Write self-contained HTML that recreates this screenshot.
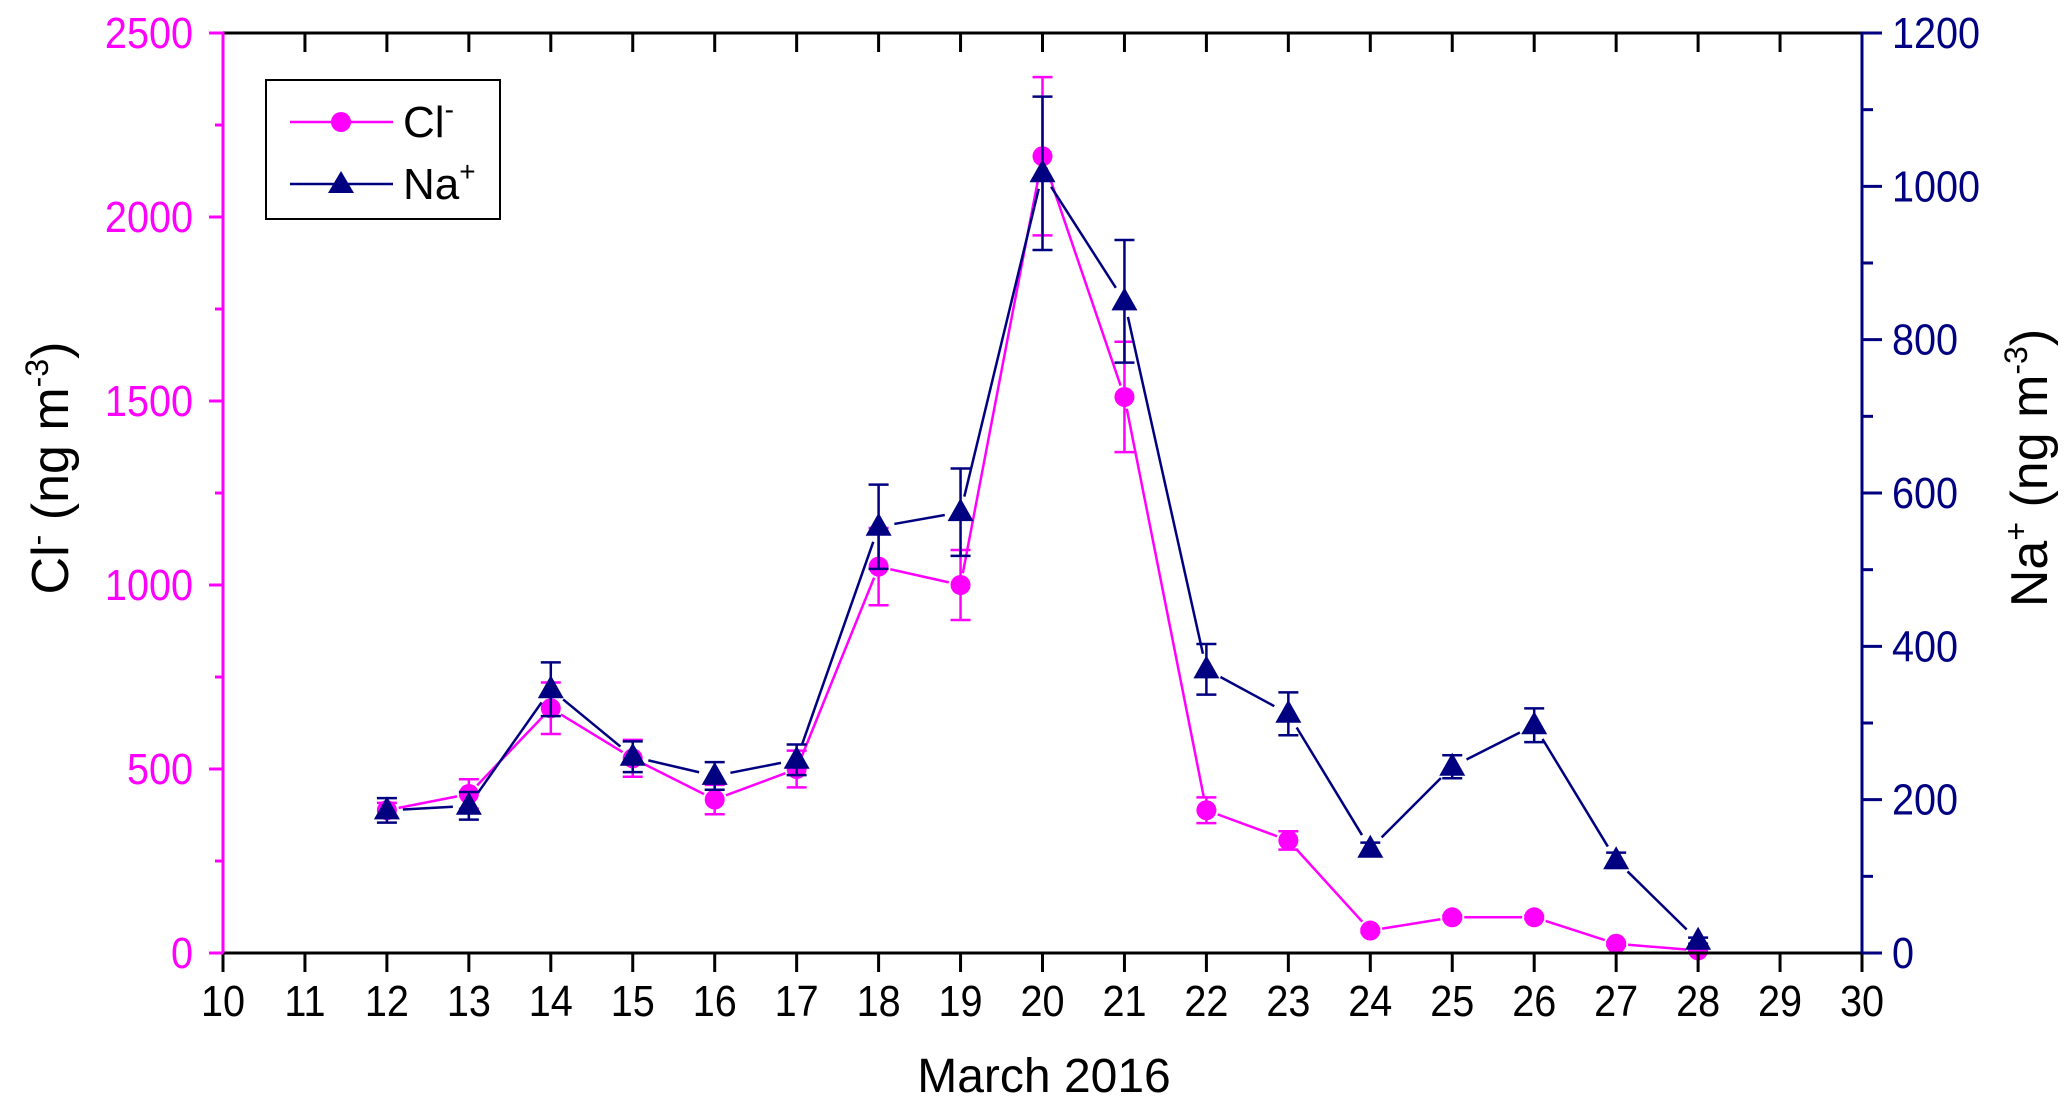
<!DOCTYPE html>
<html><head><meta charset="utf-8"><style>
body{margin:0;background:#fff;}
svg text{font-family:"Liberation Sans",Arial,sans-serif;}
</style></head><body>
<svg id="chart" width="2067" height="1110" xmlns="http://www.w3.org/2000/svg">
<g id="series"></g>
<g id="axes"></g>
<g>
<rect x="266" y="80" width="234" height="139" fill="#fff" stroke="#000" stroke-width="2"/>
<g>
<line x1="290" y1="122" x2="393" y2="122" stroke="#ff00ff" stroke-width="2.5"/>
<circle cx="341" cy="122" r="10" fill="#ff00ff"/>
<text x="403" y="137" font-size="44">Cl<tspan font-size="28" dy="-18">-</tspan></text>
</g>
<g>
<line x1="290" y1="184" x2="393" y2="184" stroke="#000080" stroke-width="2.5"/>
<polygon points="341,171 328,193 354,193" fill="#000080"/>
<text x="403" y="199" font-size="44">Na<tspan font-size="28" dy="-18">+</tspan></text>
</g>
</g>
<text x="1044" y="1092" font-size="48" text-anchor="middle">March  2016</text>
<text transform="translate(68,468) rotate(-90)" font-size="52" text-anchor="middle">Cl<tspan font-size="32" dy="-20">-</tspan><tspan dy="20"> (ng m</tspan><tspan font-size="32" dy="-20">-3</tspan><tspan dy="20">)</tspan></text>
<text transform="translate(2047,468) rotate(-90)" font-size="52" text-anchor="middle">Na<tspan font-size="32" dy="-20">+</tspan><tspan dy="20"> (ng m</tspan><tspan font-size="32" dy="-20">-3</tspan><tspan dy="20">)</tspan></text>
</svg>
<script>
const days=[12,13,14,15,16,17,18,19,20,21,22,23,24,25,26,27,28];
const clValues=[388,432,665,529,417,500,1050,1000,2165,1511,388,306,61,97,97,25,7];
const clErrors=[20,40,70,50,40,50,105,95,215,150,35,25,5,5,5,5,3];
const naValues=[186,192,344,256,231,252,556,575,1017,850,370,312,136,243,297,121,16];
const naErrors=[16,18,35,20,18,20,55,57,100,80,33,28,8,15,22,10,4];
const xTicks=[10,11,12,13,14,15,16,17,18,19,20,21,22,23,24,25,26,27,28,29,30];
const leftTicks=[0,500,1000,1500,2000,2500];
const rightTicks=[0,200,400,600,800,1000,1200];

const X0=223,X1=1862,Y0=953,Y1=33;
const xs=d=>X0+(d-10)/20*(X1-X0);
const yl=v=>Y0-v/2500*(Y0-Y1);
const yr=v=>Y0-v/1200*(Y0-Y1);
const NS="http://www.w3.org/2000/svg";
function mk(tag,attrs,parent){const e=document.createElementNS(NS,tag);for(const k in attrs)e.setAttribute(k,attrs[k]);parent.appendChild(e);return e;}
const axes=document.getElementById('axes'),ser=document.getElementById('series');

let e;
e=mk('line',{x1:X0,y1:Y0,x2:X1,y2:Y0,stroke:'#000','stroke-width':3},axes);


e=mk('line',{x1:X0,y1:Y1,x2:X1,y2:Y1,stroke:'#000','stroke-width':3},axes);


e=mk('line',{x1:X0,y1:Y0,x2:X0,y2:Y1-1,stroke:'#ff00ff','stroke-width':3},axes);


e=mk('line',{x1:X1,y1:Y0,x2:X1,y2:Y1-1,stroke:'#000080','stroke-width':3},axes);



function lbl(x,y,anchor,fill){
 return {x:0,y:0,transform:`translate(${x},${y}) scale(0.9,1)`,'font-size':44,'text-anchor':anchor,fill:fill};
}
xTicks.forEach(t=>{
 const x=xs(t);
 mk('line',{x1:x,y1:Y0,x2:x,y2:Y0+19,stroke:'#000','stroke-width':3},axes);
 if(t>10&&t<30) mk('line',{x1:x,y1:Y1,x2:x,y2:Y1+19,stroke:'#000','stroke-width':3},axes);
 const tx=mk('text',lbl(x,Y0+63,'middle','#000'),axes);
 tx.textContent=t;
 
 
});
leftTicks.forEach((t,i)=>{
 const y=yl(t);
 mk('line',{x1:X0-14,y1:y,x2:X0,y2:y,stroke:'#ff00ff','stroke-width':3},axes);
 if(i<leftTicks.length-1) mk('line',{x1:X0-8,y1:yl(t+250),x2:X0,y2:yl(t+250),stroke:'#ff00ff','stroke-width':3},axes);
 const tx=mk('text',lbl(X0-30,y+15,'end','#ff00ff'),axes);
 tx.textContent=t;
 
 
});
rightTicks.forEach((t,i)=>{
 const y=yr(t);
 mk('line',{x1:X1,y1:y,x2:X1+20,y2:y,stroke:'#000080','stroke-width':3},axes);
 if(i<rightTicks.length-1) mk('line',{x1:X1,y1:yr(t+100),x2:X1+11,y2:yr(t+100),stroke:'#000080','stroke-width':3},axes);
 const tx=mk('text',lbl(X1+30,y+15,'start','#000080'),axes);
 tx.textContent=t;
 
 
});

function drawSeries(vals,errs,yf,color,kind,name){
 const g=mk('g',{},ser);
 
 
 const pts=days.map((d,i)=>[xs(d),yf(vals[i])]);
 const gap=kind==='c'?12:16;
 for(let i=0;i<pts.length-1;i++){
  const [a,b]=pts[i],[c,d]=pts[i+1];const L=Math.hypot(c-a,d-b);
  if(L<2*gap)continue;const ux=(c-a)/L,uy=(d-b)/L;
  const ln=mk('line',{x1:a+ux*gap,y1:b+uy*gap,x2:c-ux*gap,y2:d-uy*gap,stroke:color,'stroke-width':2.5},g);
  
  
 }
 days.forEach((dd,i)=>{
  const x=xs(dd),yt=yf(vals[i]+errs[i]),yb=yf(vals[i]-errs[i]);
  const eb=mk('path',{d:`M${x},${yt}V${yb}M${x-10},${yt}H${x+10}M${x-10},${yb}H${x+10}`,stroke:color,'stroke-width':2.5,fill:'none'},g);
  
  
  const [px,py]=pts[i];let m;
  if(kind==='c') m=mk('circle',{cx:px,cy:py,r:10,fill:color},g);
  else m=mk('polygon',{points:`${px},${py-14} ${px-13},${py+9} ${px+13},${py+9}`,fill:color},g);
  
  
 });
}
drawSeries(clValues,clErrors,yl,'#ff00ff','c','cl');
drawSeries(naValues,naErrors,yr,'#000080','t','na');
</script>
</body></html>
